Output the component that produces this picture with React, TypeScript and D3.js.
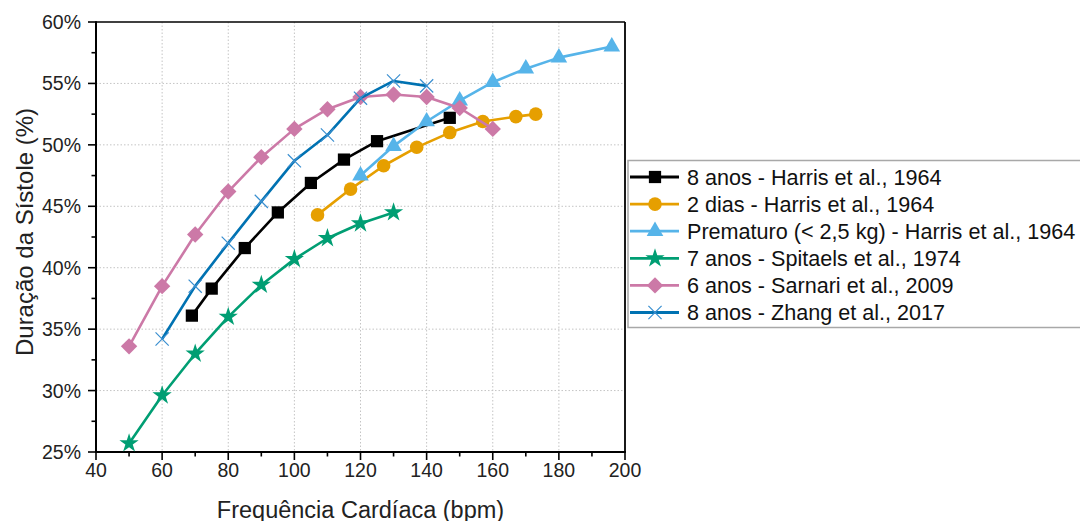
import React from "react";
import * as d3 from "d3";

// Heart rate (bpm) and systole duration (% of cardiac cycle) per study
const harris8X = [69, 75, 85, 95, 105, 115, 125, 147];
const harris8Y = [36.1, 38.3, 41.6, 44.5, 46.9, 48.8, 50.3, 52.2];

const harris2dX = [107, 117, 127, 137, 147, 157, 167, 173];
const harris2dY = [44.3, 46.4, 48.3, 49.8, 51.0, 51.9, 52.3, 52.5];

const prematureX = [120, 130, 140, 150, 160, 170, 180, 196];
const prematureY = [47.5, 49.9, 51.9, 53.6, 55.1, 56.2, 57.1, 58.0];

const spitaelsX = [50, 60, 70, 80, 90, 100, 110, 120, 130];
const spitaelsY = [25.7, 29.6, 33.0, 36.0, 38.6, 40.7, 42.4, 43.6, 44.5];

const sarnariX = [50, 60, 70, 80, 90, 100, 110, 120, 130, 140, 150, 160];
const sarnariY = [33.6, 38.5, 42.7, 46.2, 49.0, 51.3, 52.9, 53.9, 54.1, 53.9, 53.0, 51.3];

const zhangX = [60, 70, 80, 90, 100, 110, 120, 130, 140];
const zhangY = [34.2, 38.5, 42.0, 45.4, 48.7, 50.8, 53.8, 55.2, 54.8];

const seriesLabels = [
  "8 anos - Harris et al., 1964",
  "2 dias - Harris et al., 1964",
  "Prematuro (< 2,5 kg) - Harris et al., 1964",
  "7 anos - Spitaels et al., 1974",
  "6 anos - Sarnari et al., 2009",
  "8 anos - Zhang et al., 2017",
];
const seriesColors = ["#000000", "#E69F00", "#56B4E9", "#009E73", "#CC79A7", "#0072B2"];
const seriesMarkers = ["square", "circle", "triangle", "star", "diamond", "x"];

const xTicks = [40, 60, 80, 100, 120, 140, 160, 180, 200];
const xMinorTicks = [50, 70, 90, 110, 130, 150, 170, 190];
const yTicks = [25, 30, 35, 40, 45, 50, 55, 60];
const yMinorTicks = [27.5, 32.5, 37.5, 42.5, 47.5, 52.5, 57.5];

const xTitle = "Frequência Cardíaca (bpm)";
const yTitle = "Duração da Sístole (%)";

const W = 1080;
const H = 521;
const plot = { left: 96, right: 625, top: 22, bottom: 452 };
const FONT = "'Liberation Sans', Arial, Helvetica, sans-serif";

const x = d3.scaleLinear().domain([40, 200]).range([plot.left, plot.right]);
const y = d3.scaleLinear().domain([25, 60]).range([plot.bottom, plot.top]);

const series = [
  { xs: harris8X, ys: harris8Y },
  { xs: harris2dX, ys: harris2dY },
  { xs: prematureX, ys: prematureY },
  { xs: spitaelsX, ys: spitaelsY },
  { xs: sarnariX, ys: sarnariY },
  { xs: zhangX, ys: zhangY },
].map((s, i) => ({
  ...s,
  label: seriesLabels[i],
  color: seriesColors[i],
  marker: seriesMarkers[i],
}));

const line = d3
  .line<[number, number]>()
  .x((d) => x(d[0]))
  .y((d) => y(d[1]));

function Marker({ kind, color, cx, cy }: { kind: string; color: string; cx: number; cy: number }) {
  const t = `translate(${cx},${cy})`;
  if (kind === "square") {
    return <path transform={t} d={d3.symbol(d3.symbolSquare, 150)()!} fill={color} />;
  }
  if (kind === "circle") {
    return <path transform={t} d={d3.symbol(d3.symbolCircle, 145)()!} fill={color} />;
  }
  if (kind === "triangle") {
    return <path transform={t} d={d3.symbol(d3.symbolTriangle, 120)()!} fill={color} />;
  }
  if (kind === "star") {
    return <path transform={t} d={d3.symbol(d3.symbolStar, 115)()!} fill={color} />;
  }
  if (kind === "diamond") {
    const r = 8.2;
    return <path transform={t} d={`M0,${-r}L${r},0L0,${r}L${-r},0Z`} fill={color} />;
  }
  // thin cross marker
  return (
    <path
      transform={t}
      d={d3.symbol(d3.symbolTimes, 115)()!}
      fill="none"
      stroke="#3a8fd0"
      strokeWidth={1.2}
    />
  );
}

export default function App() {
  const legend = { x: 628, y: 160.5, w: 470, h: 167, rowStart: 177, rowStep: 27.1 };
  return (
    <svg width={W} height={H} style={{ position: "absolute", left: 0, top: 0, background: "#fff" }}>
      <rect width={W} height={H} fill="#fff" />

      {/* grid */}
      <g stroke="#c4c4c4" strokeWidth={1} strokeDasharray="1.5,2">
        {xTicks.slice(1, -1).map((t) => (
          <line key={"gx" + t} x1={x(t)} x2={x(t)} y1={plot.top} y2={plot.bottom} />
        ))}
        {yTicks.slice(1, -1).map((t) => (
          <line key={"gy" + t} x1={plot.left} x2={plot.right} y1={y(t)} y2={y(t)} />
        ))}
      </g>

      {/* frame */}
      <line x1={plot.left} x2={plot.right} y1={plot.top} y2={plot.top} stroke="#000" strokeWidth={1.5} />
      <line x1={plot.right} x2={plot.right} y1={plot.top} y2={plot.bottom} stroke="#000" strokeWidth={1.8} />
      <line x1={plot.left} x2={plot.left} y1={plot.top - 0.75} y2={plot.bottom + 1} stroke="#000" strokeWidth={2} />
      <line x1={plot.left - 1} x2={plot.right + 0.9} y1={plot.bottom} y2={plot.bottom} stroke="#000" strokeWidth={2} />

      {/* ticks */}
      <g stroke="#000" strokeWidth={1.6}>
        {xTicks.map((t) => (
          <line key={"xt" + t} x1={x(t)} x2={x(t)} y1={plot.bottom} y2={plot.bottom + 8} />
        ))}
        {xMinorTicks.map((t) => (
          <line key={"xm" + t} x1={x(t)} x2={x(t)} y1={plot.bottom} y2={plot.bottom + 4.5} />
        ))}
        {yTicks.map((t) => (
          <line key={"yt" + t} x1={plot.left - 8} x2={plot.left} y1={y(t)} y2={y(t)} />
        ))}
        {yMinorTicks.map((t) => (
          <line key={"ym" + t} x1={plot.left - 4.5} x2={plot.left} y1={y(t)} y2={y(t)} />
        ))}
      </g>

      {/* tick labels */}
      <g fontFamily={FONT} fontSize={19.5} fill="#222">
        {xTicks.map((t) => (
          <text key={"xl" + t} x={x(t)} y={477} textAnchor="middle">
            {t}
          </text>
        ))}
        {yTicks.map((t) => (
          <text key={"yl" + t} x={81} y={y(t)} textAnchor="end" dominantBaseline="central">
            {t}%
          </text>
        ))}
      </g>

      {/* axis titles */}
      <text x={(plot.left + plot.right) / 2} y={518} textAnchor="middle" fontFamily={FONT} fontSize={23.5} fill="#222">
        {xTitle}
      </text>
      <text
        transform={`translate(33,${232}) rotate(-90)`}
        textAnchor="middle"
        fontFamily={FONT}
        fontSize={24}
        fill="#222"
      >
        {yTitle}
      </text>

      {/* series */}
      {series.map((s, i) => {
        const pts = s.xs.map((v, j) => [v, s.ys[j]] as [number, number]);
        return (
          <g key={"s" + i}>
            <path d={line(pts)!} fill="none" stroke={s.color} strokeWidth={2.6} strokeLinejoin="round" />
            {pts.map((p, j) => (
              <Marker key={j} kind={s.marker} color={s.color} cx={x(p[0])} cy={y(p[1])} />
            ))}
          </g>
        );
      })}

      {/* legend */}
      <rect x={legend.x} y={legend.y} width={legend.w} height={legend.h} fill="#fff" stroke="#a8a8a8" strokeWidth={1.5} />
      {series.map((s, i) => {
        const cy = legend.rowStart + i * legend.rowStep;
        return (
          <g key={"lg" + i}>
            <line x1={630} x2={679} y1={cy} y2={cy} stroke={s.color} strokeWidth={2.8} />
            <Marker kind={s.marker} color={s.color} cx={655} cy={cy} />
            <text x={687} y={cy} dominantBaseline="central" fontFamily={FONT} fontSize={21.6} fill="#111">
              {s.label}
            </text>
          </g>
        );
      })}
    </svg>
  );
}
